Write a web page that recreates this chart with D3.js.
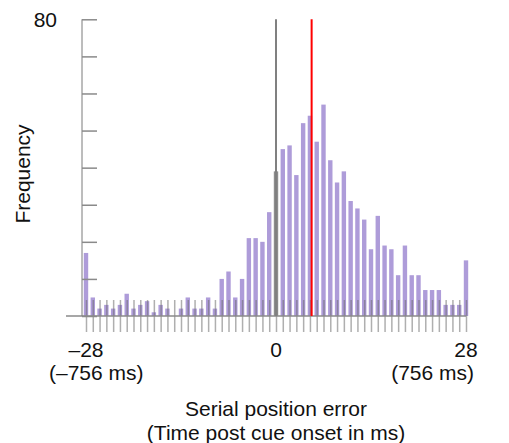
<!DOCTYPE html>
<html lang="en">
<head>
<meta charset="UTF-8">
<title>Serial position error</title>
<style>
body { margin: 0; background: #fff; }
text { font-family: "Liberation Sans", Arial, sans-serif; fill: #111; }
</style>
</head>
<body>
<script src="https://cdn.jsdelivr.net/npm/d3@7"></script>
<script>
    // serial position error bins, -28 .. 28
    var positions = [-28, -27, -26, -25, -24, -23, -22, -21, -20, -19, -18, -17, -16, -15,
        -14, -13, -12, -11, -10, -9, -8, -7, -6, -5, -4, -3, -2, -1, 0,
        1, 2, 3, 4, 5, 6, 7, 8, 9, 10, 11, 12, 13, 14,
        15, 16, 17, 18, 19, 20, 21, 22, 23, 24, 25, 26, 27, 28];
    var counts = [17, 5, 2, 3, 2, 3, 6, 2, 3, 4, 1, 3, 2, 0,
        2, 5, 2, 2, 5, 2, 10, 12, 5, 10, 21, 21, 20, 28, 39,
        45, 46, 38, 52, 54, 47, 57, 42, 36, 39, 31, 29, 26, 18,
        27, 19, 18, 11, 19, 11, 11, 7, 7, 7, 3, 3, 3, 15];
    var meanError = 5.25;
    var yTicks = [0, 10, 20, 30, 40, 50, 60, 70, 80];
    var xLabels = [
        { v: -28, top: "\u201328", bottom: "(\u2013756 ms)" },
        { v: 0, top: "0", bottom: "" },
        { v: 28, top: "28", bottom: "(756 ms)" }
    ];

    var data = positions.map(function(p, i) { return { pos: p, n: counts[i] }; });

    var width = 509, height = 443, fs = 21;
    var x = d3.scaleLinear().domain([-28, 28]).range([86, 466]);
    var y = d3.scaleLinear().domain([0, 80]).range([316, 19.3]);
    var barW = 4.4;

    var svg = d3.select("body").append("svg")
        .attr("width", width)
        .attr("height", height);

    // bars
    svg.selectAll(".bar")
        .data(data)
        .enter().append("rect")
        .attr("class", "bar")
        .attr("x", function(d) { return x(d.pos) - barW / 2; })
        .attr("y", function(d) { return y(d.n); })
        .attr("width", barW)
        .attr("height", function(d) { return y(0) - y(d.n); })
        .attr("fill", function(d) { return d.pos === 0 ? "#8e8e8e" : "#ae9cd9"; });

    // x ticks crossing the baseline
    var xAxis = svg.append("g")
        .attr("transform", "translate(0," + y(0) + ")")
        .call(d3.axisBottom(x).tickValues(positions).tickSize(16).tickFormat(""));
    xAxis.select(".domain").remove();
    xAxis.selectAll(".tick line")
        .attr("y1", -16)
        .attr("stroke", "#6e6e6e")
        .attr("stroke-opacity", 0.55)
        .attr("stroke-width", 1.5);

    // baseline
    svg.append("line")
        .attr("x1", 66).attr("x2", x(28))
        .attr("y1", y(0)).attr("y2", y(0))
        .attr("stroke", "#8a8a8a")
        .attr("stroke-width", 1.5);

    // y axis
    var yAxis = svg.append("g")
        .attr("transform", "translate(82,0)")
        .call(d3.axisLeft(y).tickValues(yTicks).tickSize(16)
            .tickFormat(function(d) { return d === 80 ? "80" : ""; }));
    yAxis.select(".domain")
        .attr("d", "M0," + y(80) + "V" + y(0))
        .attr("stroke", "#7a7a7a");
    yAxis.selectAll(".tick line")
        .attr("x2", 15)
        .attr("stroke", "#8a8a8a")
        .attr("stroke-width", 1.5);
    yAxis.selectAll(".tick text")
        .attr("x", -25)
        .attr("dy", "0.36em")
        .attr("font-size", fs)
        .attr("font-family", "Liberation Sans, Arial, sans-serif")
        .attr("fill", "#111");

    // reference lines: zero error and mean error
    svg.append("line")
        .attr("x1", x(0)).attr("x2", x(0))
        .attr("y1", y(80)).attr("y2", y(0))
        .attr("stroke", "#808080")
        .attr("stroke-width", 2);
    svg.append("line")
        .attr("x1", x(meanError)).attr("x2", x(meanError))
        .attr("y1", y(80)).attr("y2", y(0))
        .attr("stroke", "#ff0000")
        .attr("stroke-width", 2);

    // x labels
    var lab = svg.selectAll(".xlab")
        .data(xLabels)
        .enter().append("g")
        .attr("class", "xlab");
    lab.append("text")
        .attr("x", function(d) { return x(d.v); })
        .attr("y", 357)
        .attr("text-anchor", "middle")
        .attr("font-size", fs)
        .text(function(d) { return d.top; });
    lab.append("text")
        .attr("x", function(d) { return d.v < 0 ? 49 : 474; })
        .attr("y", 380)
        .attr("text-anchor", function(d) { return d.v < 0 ? "start" : "end"; })
        .attr("font-size", fs)
        .text(function(d) { return d.bottom; });

    svg.append("text")
        .attr("x", x(0)).attr("y", 416)
        .attr("text-anchor", "middle")
        .attr("font-size", fs)
        .text("Serial position error");
    svg.append("text")
        .attr("x", x(0)).attr("y", 440)
        .attr("text-anchor", "middle")
        .attr("font-size", fs)
        .text("(Time post cue onset in ms)");

    svg.append("text")
        .attr("transform", "translate(30,174) rotate(-90)")
        .attr("text-anchor", "middle")
        .attr("font-size", fs)
        .text("Frequency");
</script>
</body>
</html>
